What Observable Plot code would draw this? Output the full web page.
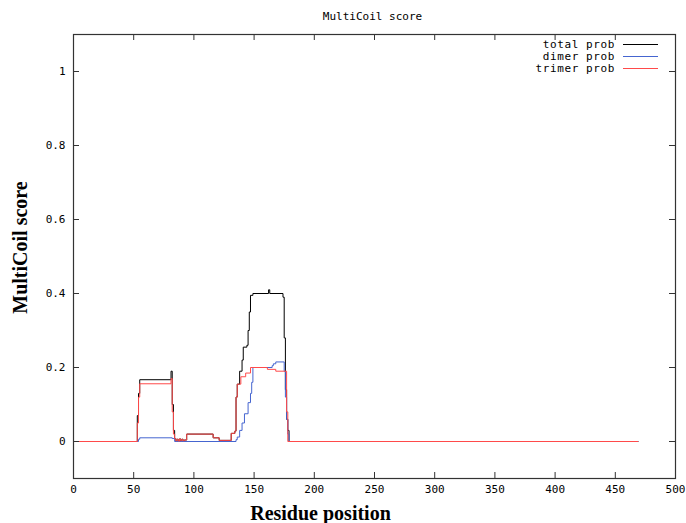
<!DOCTYPE html>
<html>
<head>
<meta charset="utf-8">
<script src="https://cdn.jsdelivr.net/npm/d3@7"></script>
<script src="https://cdn.jsdelivr.net/npm/@observablehq/plot@0.6"></script>
<style>
  body { margin: 0; background: #fff; }
  #chart svg { display: block; }
</style>
</head>
<body>
<div id="chart"></div>
<script>
// ---- Data (residue position where the step starts, and its value) ----
const totalPos = [0, 53, 54, 55, 81, 82, 83, 84, 85, 86, 87, 88, 89, 90, 91, 92, 94, 116, 121, 131, 134, 135, 136, 138, 140, 141, 144, 145, 146, 147, 149, 162, 163, 174, 175, 176, 177, 178, 179, 469];
const totalVal = [0, 0.07, 0.13, 0.167, 0.19, 0.10, 0.03, 0.008, 0.002, 0.006, 0.001, 0.007, 0.002, 0.006, 0.002, 0.004, 0.02, 0.01, 0.003, 0.022, 0.028, 0.12, 0.155, 0.19, 0.22, 0.255, 0.26, 0.30, 0.35, 0.395, 0.40, 0.41, 0.40, 0.39, 0.28, 0.14, 0.06, 0.03, 0, 0];

const dimerPos = [0, 54, 55, 82, 84, 135, 136, 138, 140, 142, 145, 147, 148, 149, 165, 166, 168, 175, 176, 177, 178, 179, 469];
const dimerVal = [0, 0.006, 0.01, 0.008, 0, 0.005, 0.012, 0.03, 0.05, 0.075, 0.105, 0.13, 0.16, 0.2, 0.205, 0.21, 0.215, 0.19, 0.12, 0.06, 0.02, 0, 0];

const trimerPos = [0, 53, 54, 55, 81, 82, 83, 84, 85, 86, 87, 88, 89, 90, 91, 92, 94, 116, 121, 131, 134, 135, 136, 139, 143, 147, 161, 168, 177, 178, 469];
const trimerVal = [0, 0.05, 0.12, 0.156, 0.17, 0.08, 0.02, 0.008, 0.002, 0.006, 0.001, 0.007, 0.002, 0.006, 0.002, 0.004, 0.02, 0.01, 0.003, 0.022, 0.028, 0.12, 0.155, 0.175, 0.185, 0.2, 0.195, 0.19, 0.08, 0, 0];

const seriesNames = ["total prob", "dimer prob", "trimer prob"];
const seriesColors = ["#000000", "#4565d0", "#ff4a4a"];

const xTicks = [0, 50, 100, 150, 200, 250, 300, 350, 400, 450, 500];
const yTicks = [0, 0.2, 0.4, 0.6, 0.8, 1];

const chartTitle = "MultiCoil score";
const xTitle = "Residue position";
const yTitle = "MultiCoil score";

// ---- Build tables ----
const toRows = (pos, val, s) => pos.map((p, i) => ({x: p, y: val[i], s}));
const total = toRows(totalPos, totalVal, seriesNames[0]);
const dimer = toRows(dimerPos, dimerVal, seriesNames[1]);
const trimer = toRows(trimerPos, trimerVal, seriesNames[2]);

const W = 686, H = 523;
const mL = 73, mR = 11, mT = 34, mB = 45;
const frameW = W - mL - mR, frameH = H - mT - mB;
const tickLen = 6;
const mono = "DejaVu Sans Mono";
const serif = "Liberation Serif";

const plot = Plot.plot({
  width: W, height: H,
  marginLeft: mL, marginRight: mR, marginTop: mT, marginBottom: mB,
  x: {domain: [0, 500]},
  y: {domain: [-0.1, 1.1]},
  style: {fontFamily: mono, fontSize: "11px", background: "#fff", color: "#000"},
  marks: [
    // data
    Plot.line(total, {x: "x", y: "y", stroke: seriesColors[0], strokeWidth: 1, curve: "step-after"}),
    Plot.line(dimer, {x: "x", y: "y", stroke: seriesColors[1], strokeWidth: 1, curve: "step-after"}),
    Plot.line(trimer, {x: "x", y: "y", stroke: seriesColors[2], strokeWidth: 1, curve: "step-after"}),
    // frame and inward mirrored ticks
    Plot.frame({stroke: "#333", strokeWidth: 1.2}),
    Plot.tickX(xTicks, {x: d => d, insetTop: frameH - tickLen, stroke: "#333"}),
    Plot.tickX(xTicks, {x: d => d, insetBottom: frameH - tickLen, stroke: "#333"}),
    Plot.tickY(yTicks, {y: d => d, insetRight: frameW - tickLen, stroke: "#333"}),
    Plot.tickY(yTicks, {y: d => d, insetLeft: frameW - tickLen, stroke: "#333"}),
    // tick labels
    Plot.axisX(xTicks, {tickSize: 0, tickPadding: 7, tickFormat: d => String(d), label: null, letterSpacing: 0.5}),
    Plot.axisY(yTicks, {tickSize: 0, tickPadding: 8, tickFormat: d => String(d), label: null, letterSpacing: 0.5}),
    // titles
    Plot.text([chartTitle], {text: d => d, frameAnchor: "top", textAnchor: "middle", lineAnchor: "middle", dy: -18, dx: -2, fontFamily: mono, fontSize: 11, letterSpacing: 0.9}),
    Plot.text([xTitle], {text: d => d, frameAnchor: "bottom", textAnchor: "middle", lineAnchor: "middle", dx: -54, dy: 35, fontFamily: serif, fontWeight: "bold", fontSize: 20}),
    Plot.text([yTitle], {text: d => d, frameAnchor: "left", textAnchor: "middle", lineAnchor: "middle", dx: -53, dy: -9, rotate: -90, fontFamily: serif, fontWeight: "bold", fontSize: 20})
  ]
});

// legend (inside the frame, top-right, gnuplot style)
const lg = d3.select(plot).append("g").attr("font-family", mono).attr("font-size", 11);
seriesNames.forEach((name, i) => {
  const y = 44 + i * 12;
  lg.append("text").attr("x", 615).attr("y", y).attr("dy", "0.35em")
    .attr("text-anchor", "end").attr("letter-spacing", 0.6).attr("fill", "#000").text(name);
  lg.append("line").attr("x1", 623).attr("x2", 658).attr("y1", y + 0.5).attr("y2", y + 0.5)
    .attr("stroke", seriesColors[i]).attr("stroke-width", 1);
});

document.getElementById("chart").appendChild(plot);
</script>
</body>
</html>
